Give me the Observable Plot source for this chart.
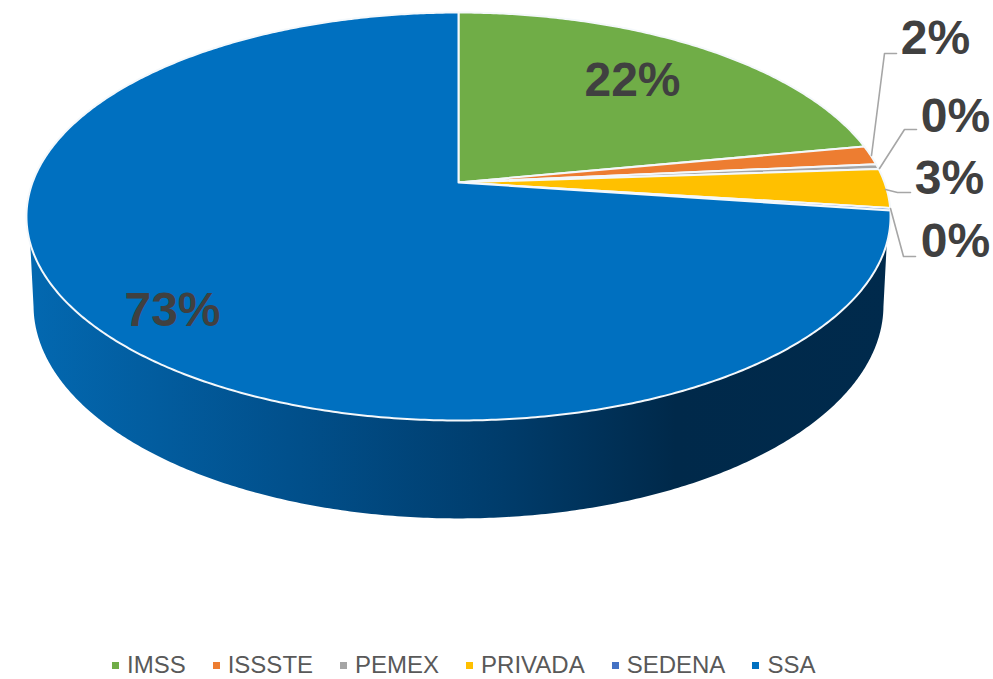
<!DOCTYPE html>
<html>
<head>
<meta charset="utf-8">
<script src="https://cdn.jsdelivr.net/npm/d3@7"></script>
<script src="https://cdn.jsdelivr.net/npm/@observablehq/plot@0.6"></script>
<style>
html,body{margin:0;padding:0;background:#fff;overflow:hidden;height:679px}
#chart svg{display:block}
#legend{display:flex;align-items:center;justify-content:flex-start;padding-left:112px;height:20px;margin-top:0;
  font:24px/20px "Liberation Sans",Arial,sans-serif;color:#595959;white-space:nowrap}
#legend .item{display:flex;align-items:center;margin-right:27px}
#legend .item span{display:block;height:20px;line-height:20px}
#legend i{display:block;width:7px;height:7px;margin-right:8px}
</style>
</head>
<body>
<div id="chart"></div>
<div id="legend"></div>
<script>
const categories = ["IMSS", "ISSSTE", "PEMEX", "PRIVADA", "SEDENA", "SSA"];
const shares = [22.0, 1.5, 0.4, 3.1, 0.2, 72.8];
const colors = ["#70ad47", "#ed7d31", "#a5a5a5", "#ffc000", "#4472c4", "#0070c0"];
const shownLabels = ["22%", "2%", "0%", "3%", "0%", "73%"];
const labelX = [632, 935, 955, 949, 955, 172];
const labelY = [80, 38, 116, 178, 241, 310];
const leaderOrder = ["ISSSTE", "PEMEX", "PRIVADA", "SEDENA"];
const leaderX = [[871, 884, 896], [879, 904, 916], [885, 897, 910], [890, 903, 915]];
const leaderY = [[155, 53, 53], [168, 129, 129], [189, 192, 192], [208, 256, 256]];

const W = 993, H = 655;
// projected disc: the near half is larger, as in the tilted original
const k = 0.1667;
const face = {cx: 458, cy: 182, a: 426, b: 198.3};
const base = {cx: 458, cy: 269.5, a: 419, b: 207};
const rim = (d, f) => {
  const t = 2 * Math.PI * f, u = Math.sin(t), v = Math.cos(t), q = 1 + k * v;
  return {x: d.cx + d.a * u / q, y: d.cy - d.b * v / q};
};
const sweep = (d, f0, f1) => {
  const n = Math.max(2, Math.ceil(Math.abs(f1 - f0) * 720));
  return d3.range(n + 1).map(i => rim(d, f0 + (f1 - f0) * i / n));
};

let acc = 0;
const slicePts = [];
categories.forEach((name, i) => {
  const f0 = acc / 100; acc += shares[i]; const f1 = acc / 100;
  slicePts.push({name, x: face.cx, y: face.cy});
  sweep(face, f0, f1).forEach(p => slicePts.push({name, ...p}));
});

const wall = [...sweep(face, 107 / 360, 253 / 360), ...sweep(base, 260 / 360, 100 / 360)];

const labels = shownLabels.map((text, i) => ({text, x: labelX[i], y: labelY[i]}));
const leaders = leaderOrder.flatMap((name, i) => leaderX[i].map((x, j) => ({name, x, y: leaderY[i][j]})));

const gradient = () => {
  const ns = "http://www.w3.org/2000/svg";
  const defs = document.createElementNS(ns, "defs");
  const g = document.createElementNS(ns, "linearGradient");
  g.setAttribute("id", "wallShade");
  g.setAttribute("gradientUnits", "userSpaceOnUse");
  g.setAttribute("x1", 30); g.setAttribute("x2", 890);
  g.setAttribute("y1", 0); g.setAttribute("y2", 0);
  [[0, "#0368b0"], [0.3, "#01508c"], [0.55, "#003c6b"], [0.75, "#00294a"], [1, "#002a4c"]].forEach(([o, c]) => {
    const s = document.createElementNS(ns, "stop");
    s.setAttribute("offset", o); s.setAttribute("stop-color", c);
    g.appendChild(s);
  });
  defs.appendChild(g);
  return defs;
};

const chart = Plot.plot({
  width: W, height: H,
  margin: 0,
  x: {domain: [0, W], range: [0, W], axis: null},
  y: {domain: [H, 0], range: [H, 0], axis: null},
  color: {domain: categories, range: colors},
  marks: [
    gradient,
    Plot.line(wall, {x: "x", y: "y", curve: "linear-closed", fill: "url(#wallShade)", stroke: "none"}),
    Plot.line(slicePts, {x: "x", y: "y", z: "name", curve: "linear-closed", fill: "name", stroke: "#f4f8fb", strokeWidth: 2, strokeLinejoin: "round"}),
    Plot.line(leaders, {x: "x", y: "y", z: "name", stroke: "#a6a6a6", strokeWidth: 1.6}),
    Plot.text(labels, {x: "x", y: "y", text: "text", fontSize: 48, fontWeight: 700, fontFamily: "Liberation Sans, Arial, sans-serif", fill: "#404040", textAnchor: "middle", lineAnchor: "middle"})
  ]
});
document.getElementById("chart").appendChild(chart);

const lg = document.getElementById("legend");
categories.forEach((name, i) => {
  const it = document.createElement("div"); it.className = "item";
  const sw = document.createElement("i"); sw.style.background = colors[i];
  const tx = document.createElement("span"); tx.textContent = name;
  it.append(sw, tx); lg.appendChild(it);
});
</script>
</body>
</html>
